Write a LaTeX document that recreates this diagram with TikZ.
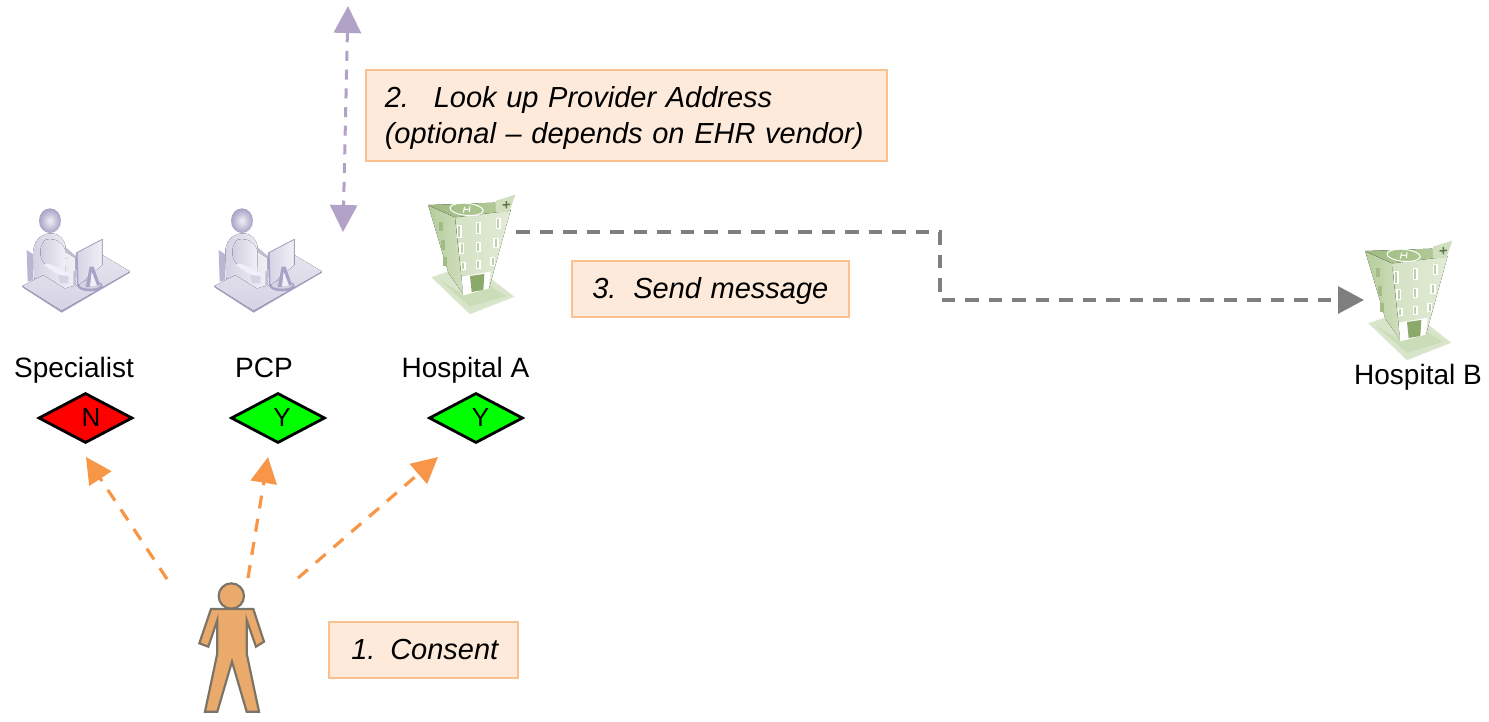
\documentclass[tikz,border=0pt]{standalone}
\usepackage{fontspec}
\setmainfont{Liberation Sans}
\usetikzlibrary{arrows.meta,shapes.geometric}
\definecolor{orangeline}{HTML}{F79646}
\definecolor{purpleline}{HTML}{B3A2C7}
\definecolor{grayline}{HTML}{7F7F7F}
\definecolor{boxfill}{HTML}{FDEADA}
\definecolor{boxline}{HTML}{FAC090}
\definecolor{bodyfill}{HTML}{E9AA6C}
\definecolor{bodyline}{HTML}{7D7468}
\definecolor{deskA}{HTML}{D6D2E4}
\definecolor{deskB}{HTML}{A9A2C6}
\definecolor{deskC}{HTML}{F1F0F6}
\definecolor{hospA}{HTML}{B4CC9A}
\definecolor{hospB}{HTML}{E2EBD6}
\definecolor{hospC}{HTML}{8BAA69}
\tikzset{
  x=1pt,y=-1pt,
  lbl/.style={font=\fontsize{28}{36}\selectfont,inner sep=0pt,text=black,anchor=base},
  note/.style={draw=boxline,fill=boxfill,line width=1.6pt,anchor=north west,inner sep=0pt,
     font=\fontsize{29}{36}\selectfont\itshape,align=left,text=black},
  flag/.style={diamond,draw=black,line width=2.8pt,inner sep=0pt,minimum width=94pt,minimum height=50pt,shape aspect=1.85},
  flagtext/.style={font=\fontsize{26}{30}\selectfont,inner sep=0pt,text=black},
  consent/.style={draw=orangeline,line width=3.2pt,dash pattern=on 13pt off 10.5pt,-{Triangle[length=26pt,width=26pt,fill=orangeline]}},
  lookup/.style={draw=purpleline,line width=3pt,dash pattern=on 10pt off 8.7pt,{Triangle[length=27pt,width=27pt,fill=purpleline]}-{Triangle[length=27pt,width=27pt,fill=purpleline]}},
  sendmsg/.style={draw=grayline,line width=3.3pt,dash pattern=on 13.5pt off 10pt,-{Triangle[length=26pt,width=27pt,fill=grayline]}},
  desk/.pic={
    \begin{scope}[x=.3333pt,y=-.3333pt]
      \fill[deskB!80] (35,150) -- (55,163) -- (55,240) -- (38,245) -- cycle;
      \fill[deskB] (22,262) -- (140,338) -- (345,218) -- (345,212) -- (140,330) -- (22,256) -- cycle;
      \fill[top color=deskC!60!deskA,bottom color=deskA] (22,258) -- (85,225) -- (180,262) -- (262,165) -- (345,214) -- (140,332) -- cycle;
      \fill[deskB!70] (150,140) -- (185,170) -- (185,210) -- (150,190) -- cycle;
      \fill[left color=deskA,right color=deskC] (55,150)
         .. controls (60,115) and (85,100) .. (108,100)
         .. controls (140,100) and (155,130) .. (152,155) -- (182,175) -- (182,255) -- (150,265)
         -- (85,225) -- (58,238) -- cycle;
      \fill[left color=deskB!55,right color=deskC] (90,120)
         .. controls (70,140) and (70,185) .. (100,200) -- (150,222) -- (152,160)
         .. controls (150,130) and (120,110) .. (90,120) -- cycle;
      \fill[deskC] (85,195) -- (100,190) -- (165,222) -- (150,235) -- cycle;
      \fill[deskB!70] (175,215) -- (182,210) -- (182,255) -- (175,255) -- cycle;
      \fill[deskA] (130,225) -- (160,228) -- (160,250) -- (135,250) -- cycle;
      \shade[inner color=deskC,outer color=deskB] (105,62) ellipse (33 and 37);
      \fill[deskB] (225,257) ellipse (38 and 17);
      \fill[deskA] (225,254) ellipse (32 and 12);
      \fill[left color=deskA,right color=deskC] (185,158) -- (262,118) -- (262,195) -- (188,258) -- cycle;
      \draw[deskB,line width=1.8pt] (185,158) -- (188,258);
      \draw[deskB,line width=.8pt] (185,158) -- (262,118) -- (262,195);
      \fill[deskB] (212,262) -- (224,200) -- (236,200) -- (255,255) -- cycle;
      \fill[deskC] (225,260) -- (230,215) -- (246,256) -- cycle;
    \end{scope}
  },
  hospital/.pic={
    \begin{scope}[x=.3333pt,y=-.3333pt]
      \fill[hospB!80!hospA,draw=hospB,line width=.6pt] (35,262) -- (150,372) -- (282,320) -- (215,268) -- (85,245) -- cycle;
      \fill[hospB!50!hospA] (60,272) -- (150,350) -- (258,318) -- (205,285) -- (130,312) -- cycle;
      \fill[left color=hospA,right color=hospB!60!hospA] (25,47) -- (105,82) -- (130,312) -- (85,248) -- cycle;
      \fill[left color=hospB!70!hospA,right color=hospB] (105,80) -- (272,60) -- (208,292) -- (130,312) -- cycle;
      \fill[left color=hospC!50!hospA,right color=hospA] (25,45) -- (225,38) -- (270,62) -- (105,82) -- cycle;
      \draw[white,line width=1pt,rotate around={-5:(140,58)}] (140,58) ellipse (50 and 18);
      \draw[white,line width=1pt] (130,68) -- (134,50) (148,66) -- (150,48) (131,59) -- (149,57);
      \fill[hospB!60!hospA] (228,32) -- (286,14) -- (268,66) -- (228,66) -- cycle;
      \draw[hospC!70!black,line width=1.5pt] (248,45) -- (270,43) (259,33) -- (259,55);
      \foreach \wx/\wy/\wh in {118/105/38,175/95/36,235/85/32,125/160/32,175/155/32,228/145/30,130/215/26,175/210/26,218/200/28}{
        \fill[white] (\wx-8,\wy) rectangle (\wx+8,\wy+\wh);
        \fill[hospC!55] (\wx-3,\wy+3) rectangle (\wx+3,\wy+\wh-3);
      }
      \foreach \wx/\wy in {62/110,68/165,75/215}{
        \fill[hospC!80] (\wx-6,\wy-14) rectangle (\wx+6,\wy+14);
      }
      \fill[white] (125,260) -- (212,245) -- (206,296) -- (130,316) -- cycle;
      \fill[hospC] (150,258) -- (193,252) -- (190,300) -- (155,306) -- cycle;
    \end{scope}
  },
  patient/.pic={
    \begin{scope}[x=.3333pt,y=-.3333pt]
      \filldraw[fill=bodyfill,draw=bodyline,line width=2.2pt]
        (93,117) -- (220,117) -- (252,215) -- (228,230) -- (200,150) -- (200,250) -- (237,425) -- (200,425)
        -- (156,275) -- (112,425) -- (75,425) -- (112,250) -- (112,150) -- (85,230) -- (58,220) -- cycle;
      \filldraw[fill=bodyfill,draw=bodyline,line width=2.2pt] (154,78) circle (38);
    \end{scope}
  }
}
\begin{document}
\begin{tikzpicture}
\useasboundingbox (0,0) rectangle (1489,721);
% icons
\pic at (15,200) {desk};
\pic at (207,200) {desk};
\pic at (420,190) {hospital};
\pic at (1357,236) {hospital};
\pic at (180,570) {patient};
% labels
\node[lbl] (specialist) at (74,377) {Specialist};
\node[lbl] (pcp) at (264,377) {PCP};
\node[lbl] (hospa) at (465.5,377) {Hospital A};
\node[lbl] (hospb) at (1418,384) {Hospital B};
% consent flags
\node[flag,fill=red] (flagN) at (85.5,418) {};
\node[flag,fill=green] (flagP) at (278,418) {};
\node[flag,fill=green] (flagH) at (476,418) {};
\node[flagtext] (textN) at (91,418) {N};
\node[flagtext] (textP) at (282,418) {Y};
\node[flagtext] (textH) at (480.5,418) {Y};
% notes
\node[note,minimum width=521pt,minimum height=91pt,text width=501pt] (note2) at (365,69) {\rule{0pt}{27pt}\hspace*{9pt}\makebox[49pt][l]{2.}Look up Provider Address\\\hspace*{9pt}(optional – depends on EHR vendor)};
\node[note,minimum width=277pt,minimum height=56pt,text width=256pt] (note3) at (571,260) {\rule{0pt}{25pt}\hspace*{10pt}\makebox[41pt][l]{3.}Send message};
\node[note,minimum width=189pt,minimum height=56pt,text width=168pt] (note1) at (328,621) {\hspace*{12pt}\makebox[39pt][l]{1.}Consent};
% connector ends
\coordinate (cA) at (167,579);
\coordinate (cB) at (248,578);
\coordinate (cC) at (298,578);
\coordinate (tA) at (86,457);
\coordinate (tB) at (268,457);
\coordinate (tC) at (438,457);
\coordinate (up) at (348,6);
\coordinate (down) at (343,232);
\coordinate (sendstart) at (516,232);
\coordinate (sendend) at (1364,300);
\draw[consent] (cA) -- (tA);
\draw[consent] (cB) -- (tB);
\draw[consent] (cC) -- (tC);
\draw[lookup] (up) -- (down);
\draw[sendmsg] (sendstart) -- (940,232) -- (940,300) -- (sendend);
\end{tikzpicture}
\end{document}
